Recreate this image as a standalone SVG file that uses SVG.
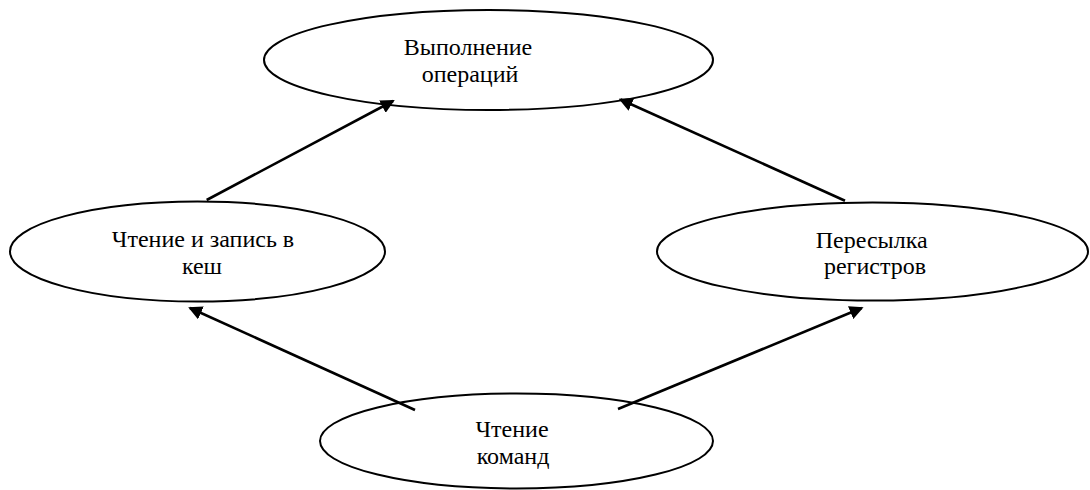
<svg xmlns="http://www.w3.org/2000/svg" width="1090" height="490" viewBox="0 0 1090 490">
<defs>
<style>
.node ellipse{fill:#fff;stroke:#000;stroke-width:2}
.node text{font-size:24px;fill:#000;text-anchor:middle}
.edge{stroke:#000;stroke-width:2.6;fill:none;marker-end:url(#ah)}
</style>
<marker id="ah" markerUnits="userSpaceOnUse" markerWidth="14" markerHeight="14" refX="12" refY="7" orient="auto">
<path d="M0,0 L14,7 L0,14 z" fill="#000"/>
</marker>
</defs>
<g id="n-exec" class="node" font-family="'Liberation Serif', serif">
<ellipse cx="488.5" cy="60" rx="224.5" ry="50"/>
<text x="468" y="55">Выполнение</text>
<text x="470" y="81.5">операций</text>
</g>
<g id="n-cache" class="node" font-family="'Liberation Serif', serif">
<ellipse cx="197.5" cy="251.5" rx="187.5" ry="50"/>
<text x="203" y="246.7">Чтение и запись в</text>
<text x="202" y="274">кеш</text>
</g>
<g id="n-regs" class="node" font-family="'Liberation Serif', serif">
<ellipse cx="872.5" cy="251.5" rx="215.5" ry="49"/>
<text x="871.7" y="248.3">Пересылка</text>
<text x="875" y="274">регистров</text>
</g>
<g id="n-fetch" class="node" font-family="'Liberation Serif', serif">
<ellipse cx="516.5" cy="441" rx="196.5" ry="47.5"/>
<text x="512" y="437">Чтение</text>
<text x="513" y="464">команд</text>
</g>
<g id="connectors">
<line class="edge" x1="206.7" y1="200" x2="393" y2="101"/>
<line class="edge" x1="845" y1="200.7" x2="620.5" y2="99.5"/>
<line class="edge" x1="415" y1="410" x2="190" y2="308"/>
<line class="edge" x1="618" y1="409" x2="861.7" y2="308"/>
</g>
</svg>
